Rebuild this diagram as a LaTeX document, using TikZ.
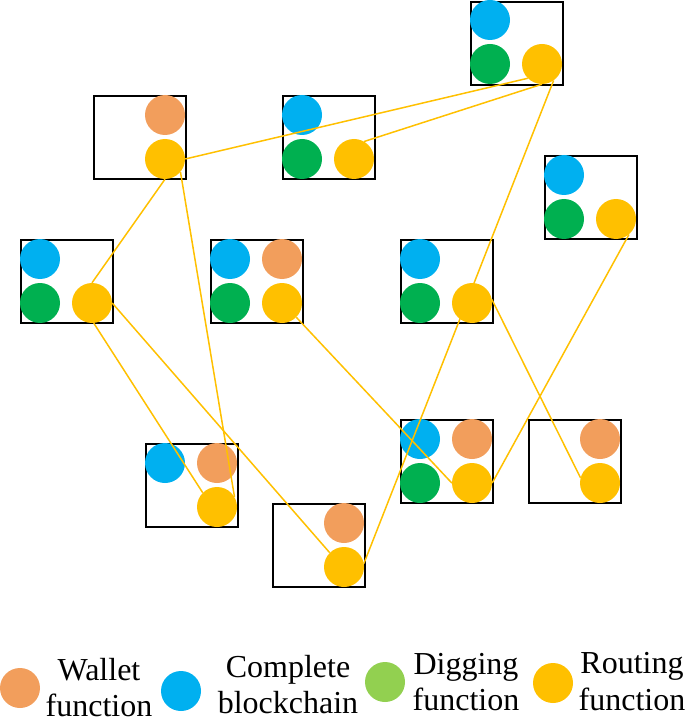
\documentclass[tikz,border=0pt]{standalone}
\usepackage{fontspec}
\setmainfont{Liberation Serif}
\usetikzlibrary{calc}
\definecolor{corange}{HTML}{F29E5C}
\definecolor{cblue}{HTML}{00B0F0}
\definecolor{cgreen}{HTML}{00B050}
\definecolor{clgreen}{HTML}{92D050}
\definecolor{cyellow}{HTML}{FFC000}
\newcommand{\fcirc}[4]{\node[fn, fill=#4] (#1) at ($(#2.north west)+#3$) {};}
\begin{document}
\begin{tikzpicture}[x=1pt,y=-1pt,
  nbox/.style={draw=black, line width=1.7pt, minimum width=92pt, minimum height=83pt, inner sep=0pt, anchor=north west},
  fn/.style={circle, minimum size=40pt, inner sep=0pt, draw=none},
  link/.style={draw=cyellow, line width=1.5pt},
  lab/.style={anchor=base, font=\fontsize{32}{36}\selectfont, inner sep=0pt}]
\useasboundingbox (0,0) rectangle (685,719);
% boxes
\node[nbox] (A) at (93,95) {};
\node[nbox] (B) at (282,95) {};
\node[nbox] (E) at (470,1) {};
\node[nbox] (F) at (544,155) {};
\node[nbox] (C) at (20,239) {};
\node[nbox] (D) at (210,239) {};
\node[nbox] (G) at (400,239) {};
\node[nbox] (H) at (145,443) {};
\node[nbox] (I) at (272,503) {};
\node[nbox] (J) at (400,419) {};
\node[nbox] (K) at (528,419) {};
% circles
\fcirc{Ao}{A}{(72,20)}{corange}
\fcirc{Ay}{A}{(72,64)}{cyellow}
\fcirc{Bb}{B}{(20,20)}{cblue}
\fcirc{Bg}{B}{(20,64)}{cgreen}
\fcirc{By}{B}{(72,64)}{cyellow}
\fcirc{Eb}{E}{(20,19)}{cblue}
\fcirc{Eg}{E}{(20,63)}{cgreen}
\fcirc{Ey}{E}{(72,63)}{cyellow}
\fcirc{Fb}{F}{(20,20)}{cblue}
\fcirc{Fg}{F}{(20,64)}{cgreen}
\fcirc{Fy}{F}{(72,64)}{cyellow}
\fcirc{Cb}{C}{(20,20)}{cblue}
\fcirc{Cg}{C}{(20,64)}{cgreen}
\fcirc{Cy}{C}{(72,64)}{cyellow}
\fcirc{Db}{D}{(20,20)}{cblue}
\fcirc{Do}{D}{(72,20)}{corange}
\fcirc{Dg}{D}{(20,64)}{cgreen}
\fcirc{Dy}{D}{(72,64)}{cyellow}
\fcirc{Gb}{G}{(20,20)}{cblue}
\fcirc{Gg}{G}{(20,64)}{cgreen}
\fcirc{Gy}{G}{(72,64)}{cyellow}
\fcirc{Hb}{H}{(20,20)}{cblue}
\fcirc{Ho}{H}{(72,20)}{corange}
\fcirc{Hy}{H}{(72,64)}{cyellow}
\fcirc{Io}{I}{(72,20)}{corange}
\fcirc{Iy}{I}{(72,64)}{cyellow}
\fcirc{Jb}{J}{(20,20)}{cblue}
\fcirc{Jo}{J}{(72,20)}{corange}
\fcirc{Jg}{J}{(20,64)}{cgreen}
\fcirc{Jy}{J}{(72,64)}{cyellow}
\fcirc{Ko}{K}{(72,20)}{corange}
\fcirc{Ky}{K}{(72,64)}{cyellow}
% links
\draw[link] (Ay.0) -- (Ey.225);
\draw[link] (By.60) -- (Ey.270);
\draw[link] (Ey.-55) -- (Iy.10);
\draw[link] (Ay.270) -- (Cy.90);
\draw[link] (Ay.-40) -- (Hy.30);
\draw[link] (Cy.-85) -- (Hy.135);
\draw[link] (Cy.0) -- (Iy.135);
\draw[link] (Dy.-45) -- (Jy.180);
\draw[link] (Jy.0) -- (Fy.-50);
\draw[link] (Gy.10) -- (Ky.165);
% legend
\node[fn, fill=corange] (L1) at (20,688) {};
\node[fn, fill=cblue] (L2) at (181,691) {};
\node[fn, fill=clgreen] (L3) at (385,682) {};
\node[fn, fill=cyellow] (L4) at (553,683) {};
\node[lab] (T1a) at (99,680) {Wallet};
\node[lab] (T1b) at (99,716) {function};
\node[lab] (T2a) at (288,677) {Complete};
\node[lab] (T2b) at (288,713) {blockchain};
\node[lab] (T3a) at (466,674) {Digging};
\node[lab] (T3b) at (466,710) {function};
\node[lab] (T4a) at (632,673) {Routing};
\node[lab] (T4b) at (632,710) {function};
\end{tikzpicture}
\end{document}
